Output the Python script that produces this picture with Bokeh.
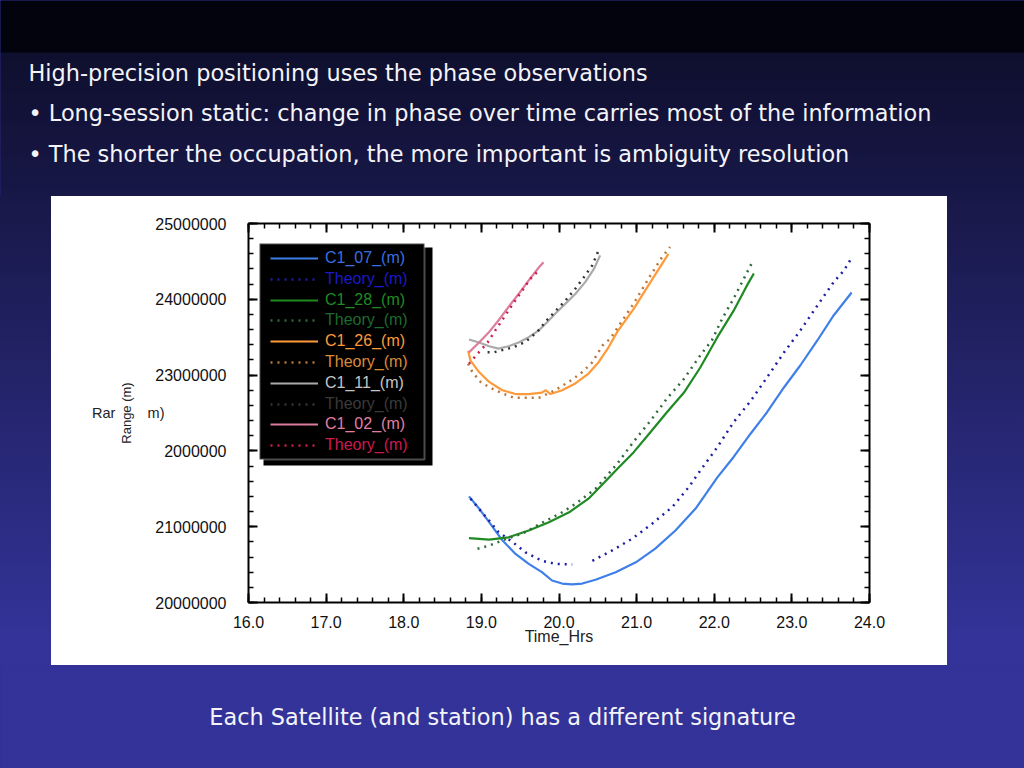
import numpy as np
from bokeh.plotting import figure
from bokeh.layouts import column
from bokeh.models import (Range1d, LinearAxis, SingleIntervalTicker, PrintfTickFormatter,
                          CustomJSTickFormatter, BoxAnnotation, Label, Legend, LegendItem,
                          GlobalInlineStyleSheet, FixedTicker)
from bokeh.embed import file_html
from bokeh.resources import INLINE

# ---------------- data (time in hours, range in metres) ----------------
t07 = [18.84, 18.97, 19.10, 19.27, 19.44, 19.61, 19.78, 19.91, 20.04, 20.17, 20.30, 20.47, 20.73,
       20.99, 21.24, 21.50, 21.76, 22.04, 22.25, 22.47, 22.68, 22.90, 23.11, 23.33, 23.54, 23.77]
c07 = [21.40e6, 21.24e6, 21.06e6, 20.82e6, 20.64e6, 20.51e6, 20.40e6, 20.29e6, 20.25e6, 20.24e6,
       20.25e6, 20.30e6, 20.40e6, 20.53e6, 20.71e6, 20.95e6, 21.24e6, 21.65e6, 21.92e6, 22.23e6,
       22.51e6, 22.84e6, 23.13e6, 23.46e6, 23.79e6, 24.09e6]
tt07 = [18.86, 18.99, 19.10, 19.22, 19.40, 19.57, 19.78, 19.95, 20.17, 20.30, 20.43, 20.69, 20.94,
        21.20, 21.46, 21.67, 21.82, 22.04, 22.25, 22.47, 22.68, 22.90, 23.11, 23.33, 23.54, 23.67, 23.76]
th07 = [21.37e6, 21.21e6, 21.08e6, 20.93e6, 20.80e6, 20.66e6, 20.55e6, 20.51e6, 20.50e6, np.nan,
        20.55e6, 20.69e6, 20.84e6, 21.04e6, 21.26e6, 21.52e6, 21.74e6, 22.05e6, 22.38e6, 22.66e6,
        22.97e6, 23.30e6, 23.59e6, 23.92e6, 24.23e6, 24.38e6, 24.53e6]

t28 = [18.84, 19.10, 19.35, 19.61, 19.87, 20.13, 20.38, 20.58, 20.75, 20.96, 21.18, 21.39, 21.61,
       21.82, 22.04, 22.25, 22.42, 22.51]
c28 = [20.85e6, 20.83e6, 20.86e6, 20.95e6, 21.06e6, 21.19e6, 21.37e6, 21.58e6, 21.76e6, 21.98e6,
       22.25e6, 22.51e6, 22.77e6, 23.10e6, 23.50e6, 23.85e6, 24.18e6, 24.34e6]
tt28 = [18.95, 19.10, 19.27, 19.53, 19.78, 20.04, 20.21, 20.47, 20.75, 20.96, 21.18, 21.39, 21.61,
        21.82, 21.97, 22.10, 22.25, 22.38, 22.50]
th28 = [20.71e6, 20.75e6, 20.82e6, 20.91e6, 21.05e6, 21.19e6, 21.30e6, 21.50e6, 21.83e6, 22.12e6,
        22.40e6, 22.69e6, 22.95e6, 23.26e6, 23.46e6, 23.74e6, 24.01e6, 24.27e6, 24.51e6]

t26 = [18.83, 18.86, 18.97, 19.10, 19.27, 19.44, 19.61, 19.78, 19.83, 19.89, 20.04, 20.21, 20.38,
       20.51, 20.64, 20.75, 20.96, 21.18, 21.41]
c26 = [23.32e6, 23.19e6, 23.04e6, 22.91e6, 22.80e6, 22.75e6, 22.75e6, 22.77e6, 22.80e6, 22.75e6,
       22.80e6, 22.89e6, 23.02e6, 23.17e6, 23.37e6, 23.57e6, 23.87e6, 24.23e6, 24.60e6]
tt26 = [18.83, 18.86, 18.90, 18.99, 19.10, 19.27, 19.42, 19.57, 19.74, 19.95, 20.17, 20.30, 20.43,
        20.56, 20.66, 20.79, 20.96, 21.14, 21.31, 21.43]
th26 = [23.15e6, 23.08e6, 23.02e6, 22.91e6, 22.84e6, 22.76e6, 22.70e6, 22.70e6, 22.70e6, 22.80e6,
        22.94e6, 23.04e6, 23.17e6, 23.39e6, 23.48e6, 23.68e6, 23.94e6, 24.25e6, 24.53e6, 24.69e6]

t11 = [18.84, 18.97, 19.10, 19.22, 19.35, 19.48, 19.61, 19.74, 19.85, 19.95, 20.08, 20.21, 20.34,
       20.45, 20.53]
c11 = [23.47e6, 23.43e6, 23.38e6, 23.35e6, 23.38e6, 23.43e6, 23.50e6, 23.59e6, 23.70e6, 23.81e6,
       23.94e6, 24.07e6, 24.23e6, 24.40e6, 24.58e6]
tt11 = [19.08, 19.16, 19.31, 19.42, 19.57, 19.72, 19.83, 19.95, 20.08, 20.21, 20.32, 20.43, 20.52]
th11 = [23.30e6, 23.30e6, 23.34e6, 23.37e6, 23.44e6, 23.57e6, 23.71e6, 23.84e6, 23.98e6, 24.14e6,
        24.29e6, 24.45e6, 24.67e6]

t02 = [18.84, 18.97, 19.10, 19.22, 19.35, 19.48, 19.61, 19.74, 19.80]
c02 = [23.30e6, 23.43e6, 23.57e6, 23.72e6, 23.90e6, 24.07e6, 24.25e6, 24.42e6, 24.49e6]
tt02 = [18.84, 18.95, 19.08, 19.18, 19.31, 19.42, 19.53, 19.63, 19.74]
th02 = [23.15e6, 23.28e6, 23.43e6, 23.59e6, 23.79e6, 23.96e6, 24.12e6, 24.27e6, 24.38e6]

legend_labels = ["C1_07_(m)", "Theory_(m)", "C1_28_(m)", "Theory_(m)", "C1_26_(m)", "Theory_(m)",
                 "C1_11_(m)", "Theory_(m)", "C1_02_(m)", "Theory_(m)"]
line_colors = ["#3f7fe8", "#1c1ca6", "#1f8a22", "#2f6a3c", "#ff9a3a", "#b8743a",
               "#aaaaaa", "#333333", "#dd7d9c", "#cc1c4c"]
text_colors = ["#3a6ee0", "#1a1ac8", "#1f8a22", "#1f6a2e", "#ff9a3a", "#d98a3a",
               "#c4c4c4", "#3a3a3a", "#e07fa2", "#cc1a50"]
series_t = [t07, tt07, t28, tt28, t26, tt26, t11, tt11, t02, tt02]
series_v = [c07, th07, c28, th28, c26, th26, c11, th11, c02, th02]

x_ticks_interval = 1.0
y_ticks_interval = 1e6
y_label_overrides = {22000000: "2000000"}
# fragments of a second, horizontal copy of the y title that show through in the original
y_title_fragment = "Rar" + "\u00a0" * 8 + "m)"

headline = "High-precision positioning uses the phase observations"
bullets = ["• Long-session static: change in phase over time carries most of the information",
           "• The shorter the occupation, the more important is ambiguity resolution"]
caption = "Each Satellite (and station) has a different signature"

# ---------------- layout geometry (page pixels) ----------------
PW, PH = 1024, 768
PANEL_L, PANEL_R, PANEL_T, PANEL_B = 51, 947, 196, 665   # white panel
FL, FR, FT, FB = 248, 869, 223, 602                     # chart frame
X0, X1, Y0, Y1 = 16.0, 24.0, 20e6, 25e6
GRAD_TOP, GRAD_END = 52, 640


def dx(px):
    return X0 + (px - FL) / (FR - FL) * (X1 - X0)


def dy(py):
    return Y1 - (py - FT) / (FB - FT) * (Y1 - Y0)


def grad_col(py):
    if py < GRAD_TOP:
        return "#03030d"
    t = min(max((py - GRAD_TOP) / (GRAD_END - GRAD_TOP), 0.0), 1.0)
    a, b = (15, 15, 46), (51, 51, 153)
    return "#%02x%02x%02x" % tuple(round(a[k] + (b[k] - a[k]) * t) for k in range(3))


def deco(y0, h):
    """Full-width decorative slide band in page-pixel coordinates with the vertical gradient."""
    f = figure(width=PW, height=h, x_range=Range1d(0, PW), y_range=Range1d(y0 + h, y0),
               output_backend="svg", toolbar_location=None, min_border=0, frame_align=False,
               x_axis_type=None, y_axis_type=None, outline_line_color=None,
               background_fill_color=grad_col(y0 + h / 2), border_fill_color=grad_col(y0 + h / 2))
    f.xgrid.visible = False
    f.ygrid.visible = False
    ys = sorted(set(list(range(y0, y0 + h, 2)) + [y0 + h] + ([GRAD_TOP] if y0 < GRAD_TOP < y0 + h else [])))
    tops = ys[:-1]
    bots = [b + 0.4 for b in ys[1:]]
    cols = [grad_col((a + b) / 2) for a, b in zip(ys[:-1], ys[1:])]
    f.quad(left=[0] * len(tops), right=[PW] * len(tops), top=tops, bottom=bots,
           fill_color=cols, line_color=None)
    return f


SLIDE_FONT = "DejaVu Sans"
SLIDE_SIZE = "22.4px"

# ---------------- slide: top area with headline and bullets ----------------
top = deco(0, PANEL_T)
for txt, py in ((headline, 72), (bullets[0], 112), (bullets[1], 153)):
    top.add_layout(Label(x=28, y=py, text=txt, text_font=SLIDE_FONT,
                         text_font_size=SLIDE_SIZE, text_color="#f4f4f8", text_baseline="middle"))

bottom = deco(PANEL_B, PH - PANEL_B)
bottom.add_layout(Label(x=502, y=716, text=caption, text_font=SLIDE_FONT,
                        text_font_size=SLIDE_SIZE, text_color="#f4f4f8", text_baseline="middle",
                        text_align="center"))

# ---------------- chart band (white panel on the gradient, via CSS background) ----------------
band_h = PANEL_B - PANEL_T
css_bg = ("linear-gradient(#ffffff,#ffffff) %dpx 0px / %dpx 100%% no-repeat, "
          "linear-gradient(to bottom, %s 0px, %s %dpx, %s 100%%)"
          % (PANEL_L, PANEL_R - PANEL_L, grad_col(PANEL_T), grad_col(GRAD_END),
             GRAD_END - PANEL_T, grad_col(GRAD_END)))

p = figure(width=PW, height=band_h,
           x_range=Range1d(X0, X1), y_range=Range1d(Y0, Y1),
           output_backend="svg", toolbar_location=None, frame_align=False,
           min_border_left=FL, min_border_right=PW - FR,
           min_border_top=FT - PANEL_T, min_border_bottom=PANEL_B - FB,
           background_fill_color="white", border_fill_color=None, outline_line_color=None,
           x_axis_label="Time_Hrs", y_axis_label="Range (m)")
p.styles = {"background": css_bg}
p.xgrid.visible = False
p.ygrid.visible = False

xax = p.below[0]
yax = p.left[0]
xt = SingleIntervalTicker(interval=x_ticks_interval, num_minor_ticks=5)
yt = SingleIntervalTicker(interval=y_ticks_interval, num_minor_ticks=5)
xax.ticker = xt
yax.ticker = yt
xax.formatter = PrintfTickFormatter(format="%.1f")
yax.formatter = PrintfTickFormatter(format="%d")
yax.major_label_overrides = y_label_overrides

blank = CustomJSTickFormatter(code="return ''")
p.add_layout(LinearAxis(ticker=xt, formatter=blank, major_label_standoff=0), "above")
p.add_layout(LinearAxis(ticker=yt, formatter=blank, major_label_standoff=0), "right")

for ax in p.axis:
    ax.axis_line_width = 2
    ax.axis_line_color = "black"
    ax.major_tick_line_width = 2
    ax.major_tick_line_color = "black"
    ax.minor_tick_line_width = 1.5
    ax.minor_tick_line_color = "black"
    ax.major_tick_in = 9
    ax.major_tick_out = 0
    ax.minor_tick_in = 5
    ax.minor_tick_out = 0
    ax.major_label_text_font = "Liberation Sans"
    ax.major_label_text_font_size = "16px"
    ax.major_label_text_color = "#111111"
    ax.axis_label_text_font = "Liberation Sans"
    ax.axis_label_text_font_style = "normal"
    ax.axis_label_text_color = "#222222"

xax.major_label_standoff = 13
xax.axis_label_standoff = -3
xax.axis_label_text_font_size = "16px"
yax.major_label_standoff = 22
yax.axis_label_standoff = 18
yax.axis_label_text_font_size = "13px"

# second, tick-less left axis carrying only the horizontal title fragments
frag = LinearAxis(ticker=FixedTicker(ticks=[]), axis_line_color=None,
                  major_tick_line_color=None, minor_tick_line_color=None,
                  major_label_standoff=0, major_tick_in=0, major_tick_out=0,
                  axis_label=y_title_fragment, axis_label_orientation="horizontal",
                  axis_label_standoff=-48, axis_label_text_font="Liberation Sans",
                  axis_label_text_font_style="normal", axis_label_text_font_size="14.5px",
                  axis_label_text_color="#222222")
p.add_layout(frag, "left")

renderers = []
for i in range(len(series_t)):
    if i % 2 == 0:
        r = p.line(series_t[i], series_v[i], line_color=line_colors[i], line_width=2.2)
    else:
        r = p.line(series_t[i], series_v[i], line_color=line_colors[i], line_width=2.5,
                   line_dash="2 5")
    renderers.append(r)

# legend: black box with offset shadow, labels coloured like their series
p.add_layout(BoxAnnotation(left=dx(263), right=dx(432), top=dy(247), bottom=dy(465),
                           fill_color="black", fill_alpha=1, line_alpha=0))
p.add_layout(BoxAnnotation(left=dx(259), right=dx(424), top=dy(243), bottom=dy(459),
                           fill_color="black", fill_alpha=1, line_color="white", line_width=2))
frame_h = FB - FT
for i, lab in enumerate(legend_labels):
    row_top = 248 + 20.8 * i - FT
    leg = Legend(items=[LegendItem(label=lab, renderers=[renderers[i]])],
                 location=(270 - FL, frame_h - row_top - 20),
                 background_fill_alpha=0, border_line_alpha=0, padding=0, margin=0, spacing=0,
                 glyph_width=48, glyph_height=20, label_height=20, label_standoff=7,
                 label_text_font="Liberation Sans", label_text_font_size="16px",
                 label_text_color=text_colors[i], label_text_baseline="middle")
    p.add_layout(leg)

layout = column(top, p, bottom)
layout.stylesheets = [GlobalInlineStyleSheet(css="html,body{background-color:#333399;}")]

open("out.html", "w").write(file_html(layout, INLINE))
